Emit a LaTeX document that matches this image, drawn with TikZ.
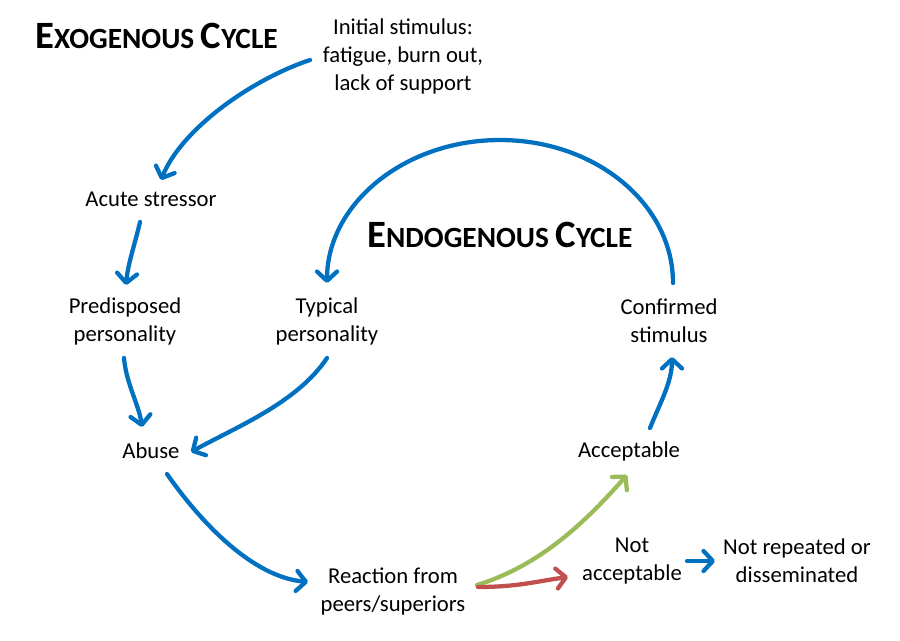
\documentclass[tikz,border=0pt]{standalone}
\usepackage{fontspec}
\setmainfont{Carlito}
\usetikzlibrary{arrows.meta,calc}
\definecolor{myblue}{HTML}{0070C0}
\definecolor{mygreen}{HTML}{9BBB59}
\definecolor{myred}{HTML}{C0504D}
\newcommand\bigE[1]{{\fontsize{29}{30}\selectfont #1}}
\newcommand\smallE[1]{{\fontsize{22}{24}\selectfont #1}}
\begin{document}
\begin{tikzpicture}[x=0.75pt,y=-0.75pt,
  lbl/.style={font=\fontsize{17}{21}\selectfont, align=center, inner sep=0pt},
  ttl/.style={font=\bfseries, anchor=base west, inner sep=0pt},
  arr/.style={draw=myblue, line width=3.2pt, line cap=round, -{Straight Barb[length=7pt,width=15pt,round]}},
  garr/.style={arr, draw=mygreen},
  rarr/.style={arr, draw=myred}]
\fill[white] (0,0) rectangle (900,640);
\useasboundingbox (0,0) rectangle (900,640);

\node[ttl] (t1) at (35,48) {\bigE{E}\smallE{XOGENOUS }\bigE{C}\smallE{YCLE}};
\node[ttl] (t2) at (367,247) {\bigE{E}\smallE{NDOGENOUS }\bigE{C}\smallE{YCLE}};

\node[lbl] (init) at (403,56) {Initial stimulus:\\fatigue, burn out,\\lack of support};
\node[lbl] (acute) at (151,199) {Acute stressor};
\node[lbl] (pred) at (125,321) {Predisposed\\personality};
\node[lbl] (typ) at (327,321) {Typical\\personality};
\node[lbl] (abuse) at (151,451) {Abuse};
\node[lbl] (conf) at (669,321) {Confirmed\\stimulus};
\node[lbl] (acc) at (629,451) {Acceptable};
\node[lbl] (react) at (393,591) {Reaction from\\peers/superiors};
\node[lbl] (notacc) at (632,561) {Not\\acceptable};
\node[lbl] (notrep) at (797,561) {Not repeated or\\disseminated};

\draw[arr] ($(init)+(-93,4)$) .. controls +(-60,20) and +(20,-50) .. ($(acute)+(10,-19)$);
\draw[arr] ($(acute)+(-11,23)$) .. controls +(-5,22) and +(2,-22) .. ($(pred)+(1,-36)$);
\draw[arr] ($(pred)+(-1,37)$) .. controls +(2,25) and +(-3,-22) .. ($(abuse)+(-9,-24)$);
\draw[arr] ($(typ)+(0,37)$) .. controls +(-30,45) and +(45,-25) .. ($(abuse)+(40,1)$);
\draw[arr] ($(abuse)+(16,23)$) .. controls +(35,50) and +(-55,-5) .. ($(react)+(-85,-9)$);
\draw[arr] ($(conf)+(4,-38)$) arc[start angle=0,end angle=-180,x radius=173,y radius=143];
\draw[arr] ($(acc)+(21,-23)$) .. controls +(10,-25) and +(0,25) .. ($(conf)+(3,36)$);
\draw[garr] ($(react)+(84,-6)$) .. controls +(65,-20) and +(-40,45) .. ($(acc)+(-2,24)$);
\draw[rarr] ($(react)+(85,-4)$) .. controls +(40,0) and +(-30,4) .. ($(notacc)+(-64,16)$);
\draw[arr] ($(notacc)+(55,0)$) -- ($(notrep)+(-82,0)$);
\end{tikzpicture}
\end{document}
